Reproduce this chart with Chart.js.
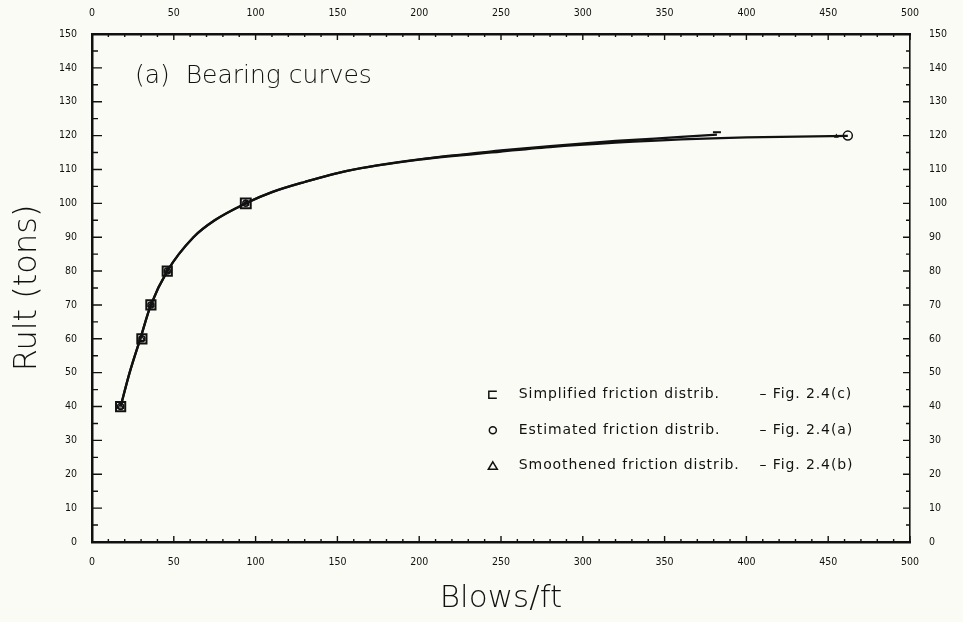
<!DOCTYPE html>
<html>
<head>
<meta charset="utf-8">
<script src="https://cdn.jsdelivr.net/npm/chart.js@4"></script>
<style>
  html, body { margin: 0; padding: 0; background: #fbfbf6; }
  #wrap { width: 963px; height: 622px; }
</style>
</head>
<body>
<div id="wrap"><canvas id="c" width="963" height="622"></canvas></div>
<script>
// Measured points (Blows/ft vs Rult in tons)
const simplifiedX = [17.5, 30.5, 36, 46, 94, 382];
const simplifiedY = [40, 60, 70, 80, 100, 121];
const estimatedX  = [17.5, 30.5, 36, 46, 94, 462];
const estimatedY  = [40, 60, 70, 80, 100, 120];
const smoothX     = [17.5, 30.5, 36, 46, 94, 455];
const smoothY     = [40, 60, 70, 80, 100, 119.8];

// Fitted bearing curves traced along their length
const curveSimpX = [17.5, 23, 29.5, 36, 46, 62, 75, 94, 110, 130, 156, 200, 250, 280, 320, 360, 382];
const curveSimpY = [40, 50, 60, 70, 80, 90, 95, 100, 103.3, 106.3, 109.6, 113, 115.6, 116.9, 118.4, 119.6, 120.3];
const curveEstX  = [17.5, 23, 29.5, 36, 46, 62, 75, 94, 110, 130, 156, 200, 250, 280, 320, 360, 400, 462];
const curveEstY  = [40, 50, 60, 70, 80, 90, 95, 100, 103.3, 106.3, 109.6, 112.9, 115.3, 116.6, 117.9, 118.9, 119.5, 119.9];

// Axis tick labels
const xTicks = [0, 50, 100, 150, 200, 250, 300, 350, 400, 450, 500];
const yTicks = [0, 10, 20, 30, 40, 50, 60, 70, 80, 90, 100, 110, 120, 130, 140, 150];

const legendLabels = ['Simplified friction distrib.', 'Estimated friction distrib.', 'Smoothened friction distrib.'];
const legendRefs   = ['– Fig. 2.4(c)', '– Fig. 2.4(a)', '– Fig. 2.4(b)'];
const legendShapes = ['rect', 'circle', 'triangle'];
const titleText = '(a)  Bearing curves';

const INK = '#111111';
const FONT = "'DejaVu Sans', 'Liberation Sans', sans-serif";
const NARROW = "'Liberation Sans Narrow', 'DejaVu Sans Condensed', 'Liberation Sans', sans-serif";

const pts = (xs, ys) => xs.map((x, i) => ({ x, y: ys[i] }));

// Draws inward-pointing major and minor ticks on all four frame sides
const frameTicks = {
  id: 'frameTicks',
  afterDatasetsDraw(chart) {
    const { ctx, chartArea: a, scales } = chart;
    ctx.save();
    ctx.strokeStyle = INK;
    ctx.lineWidth = 1.4;
    const xs = scales.x, ys = scales.y;
    for (let v = 0; v <= 500; v += 10) {
      const px = xs.getPixelForValue(v);
      const len = v % 50 === 0 ? 6 : 3;
      ctx.beginPath();
      ctx.moveTo(px, a.bottom); ctx.lineTo(px, a.bottom - len);
      ctx.moveTo(px, a.top); ctx.lineTo(px, a.top + len);
      ctx.stroke();
    }
    for (let v = 0; v <= 150; v += 5) {
      const py = ys.getPixelForValue(v);
      ctx.beginPath();
      ctx.moveTo(a.left, py); ctx.lineTo(a.left + (v % 10 === 0 ? 10 : 6), py);
      ctx.moveTo(a.right, py); ctx.lineTo(a.right - (v % 10 === 0 ? 7 : 4), py);
      ctx.stroke();
    }
    ctx.restore();
  }
};

// Panel title and the symbol key inside the plot
const annotations = {
  id: 'annotations',
  afterDraw(chart) {
    const { ctx, scales } = chart;
    const xs = scales.x, ys = scales.y;
    ctx.save();
    ctx.fillStyle = INK;
    ctx.strokeStyle = INK;
    ctx.textBaseline = 'middle';
    ctx.font = `300 25px ${FONT}`;
    ctx.fillText(titleText, chart.chartArea.left + 43, ys.getPixelForValue(137.5));

    ctx.font = `14px ${FONT}`;
    if ('letterSpacing' in ctx) ctx.letterSpacing = '0.9px';
    ctx.lineWidth = 1.5;
    legendLabels.forEach((lab, i) => {
      const y = ys.getPixelForValue(43.5 - i * 10.5);
      const sx = xs.getPixelForValue(245);
      ctx.beginPath();
      if (legendShapes[i] === 'rect') {
        ctx.moveTo(sx + 4, y - 3.5); ctx.lineTo(sx - 4, y - 3.5); ctx.lineTo(sx - 4, y + 3.5); ctx.lineTo(sx + 4, y + 3.5);
      } else if (legendShapes[i] === 'circle') {
        ctx.arc(sx, y, 3.5, 0, Math.PI * 2);
      } else {
        ctx.moveTo(sx, y - 4); ctx.lineTo(sx + 4.5, y + 3.5); ctx.lineTo(sx - 4.5, y + 3.5); ctx.closePath();
      }
      ctx.stroke();
      ctx.fillText(lab, sx + 26, y);
      ctx.fillText(legendRefs[i], xs.getPixelForValue(408), y);
    });
    ctx.restore();
  }
};

const tickFont = { family: NARROW, size: 10.5 };
const titleFont = { family: FONT, size: 31, weight: '300' };

const hiddenGrid = { display: true, drawOnChartArea: false, drawTicks: false };
const frameBorder = { display: true, color: INK, width: 2.5 };

new Chart(document.getElementById('c'), {
  type: 'scatter',
  data: {
    datasets: [
      { label: 'curveSimp', data: pts(curveSimpX, curveSimpY), showLine: true, cubicInterpolationMode: 'monotone',
        borderColor: INK, borderWidth: 2.3, pointRadius: 0, fill: false },
      { label: 'curveEst', data: pts(curveEstX, curveEstY), showLine: true, cubicInterpolationMode: 'monotone',
        borderColor: INK, borderWidth: 2.3, pointRadius: 0, fill: false },
      { label: 'Simplified', data: pts(simplifiedX, simplifiedY),
        pointStyle: ['rect', 'rect', 'rect', 'rect', 'rect', 'line'], pointRadius: [6.5, 6.5, 6.5, 6.5, 7, 4],
        borderColor: INK, backgroundColor: 'rgba(0,0,0,0)', borderWidth: 2 },
      { label: 'Estimated', data: pts(estimatedX, estimatedY), pointStyle: 'circle', pointRadius: [3, 3, 3, 3, 3, 4.5],
        borderColor: INK, backgroundColor: 'rgba(0,0,0,0)', borderWidth: 1.5 },
      { label: 'Smoothened', data: pts(smoothX, smoothY), pointStyle: 'triangle', pointRadius: [3, 3, 3, 3, 3, 1.5],
        borderColor: INK, backgroundColor: 'rgba(0,0,0,0)', borderWidth: 1.3 }
    ]
  },
  options: {
    responsive: false,
    animation: false,
    devicePixelRatio: 1,
    layout: { padding: 0 },
    plugins: { legend: { display: false }, tooltip: { enabled: false } },
    scales: {
      x: {
        type: 'linear', position: 'bottom', min: 0, max: 500,
        afterBuildTicks: s => { s.ticks = xTicks.map(v => ({ value: v })); },
        ticks: { font: tickFont, color: INK, padding: 14, maxRotation: 0 },
        grid: hiddenGrid, border: frameBorder,
        title: { display: true, text: 'Blows/ft', font: titleFont, color: INK, padding: { top: 0, bottom: 4 } },
        afterFit: s => { s.height = 80; }
      },
      x2: {
        type: 'linear', position: 'top', min: 0, max: 500,
        afterBuildTicks: s => { s.ticks = xTicks.map(v => ({ value: v })); },
        ticks: { font: tickFont, color: INK, padding: 14, maxRotation: 0 },
        grid: hiddenGrid, border: frameBorder,
        afterFit: s => { s.height = 34; }
      },
      y: {
        type: 'linear', position: 'left', min: 0, max: 150,
        afterBuildTicks: s => { s.ticks = yTicks.map(v => ({ value: v })); },
        ticks: { font: tickFont, color: INK, padding: 15 },
        grid: hiddenGrid, border: frameBorder,
        title: { display: true, text: 'Rult (tons)', font: { family: FONT, size: 32, weight: '300' }, color: INK, padding: { top: 8, bottom: 0 } },
        afterFit: s => { s.width = 92; }
      },
      y2: {
        type: 'linear', position: 'right', min: 0, max: 150,
        afterBuildTicks: s => { s.ticks = yTicks.map(v => ({ value: v })); },
        ticks: { font: tickFont, color: INK, padding: 19 },
        grid: hiddenGrid, border: { display: true, color: INK, width: 1.6, dash: [5, 2] },
        afterFit: s => { s.width = 53; }
      }
    }
  },
  plugins: [frameTicks, annotations]
});
</script>
</body>
</html>
